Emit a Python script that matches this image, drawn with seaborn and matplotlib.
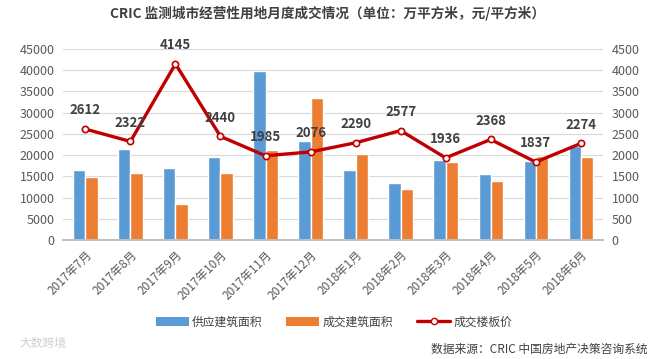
import numpy as np
import pandas as pd
import matplotlib
matplotlib.use("Agg")
import matplotlib.pyplot as plt
from matplotlib.lines import Line2D
from matplotlib.patches import Patch
import seaborn as sns

# data
months = ["2017年7月", "2017年8月", "2017年9月", "2017年10月", "2017年11月", "2017年12月",
          "2018年1月", "2018年2月", "2018年3月", "2018年4月", "2018年5月", "2018年6月"]
supply_area = [16600, 21500, 17000, 19600, 39900, 23400, 16600, 13500, 18900, 15600, 18700, 22200]
deal_area = [14800, 15900, 8600, 15900, 21300, 33500, 20300, 12100, 18400, 14000, 19800, 19600]
deal_price = [2612, 2322, 4145, 2440, 1985, 2076, 2290, 2577, 1936, 2368, 1837, 2274]

series_names = ["供应建筑面积", "成交建筑面积", "成交楼板价"]
blue, orange, red = "#5B9BD5", "#ED7D31", "#C00000"

sns.set_theme(style="white")
plt.rcParams["font.family"] = ["Noto Sans CJK SC", "DejaVu Sans"]

df = pd.DataFrame({
    "month": months * 2,
    "area": supply_area + deal_area,
    "kind": [series_names[0]] * 12 + [series_names[1]] * 12,
})
df_price = pd.DataFrame({"month": months, "price": deal_price})

fig = plt.figure(figsize=(6.55, 3.59), dpi=100)
ax = fig.add_axes([0.096, 0.331, 0.825, 0.533])

sns.barplot(data=df, x="month", y="area", hue="kind", order=months,
            palette=[blue, orange], width=0.54, gap=0, saturation=1,
            legend=False, ax=ax)
ax.set_ylim(0, 45000)
ax.set_yticks(np.arange(0, 45001, 5000))
ax.set_xlim(-0.5, 11.5)
ax.grid(axis="y", color="#D9D9D9", linewidth=0.8)
ax.set_axisbelow(True)
ax.set_xlabel("")
ax.set_ylabel("")

ax2 = ax.twinx()
sns.pointplot(data=df_price, x="month", y="price", order=months, color=red,
              markers="o", linestyles="-", markersize=4.5, linewidth=2.4,
              markerfacecolor="white", markeredgecolor=red, markeredgewidth=1.2,
              ax=ax2)
ax2.set_ylim(0, 4500)
ax2.set_yticks(np.arange(0, 4501, 500))
ax2.set_xlim(-0.5, 11.5)
ax2.set_ylabel("")

for i, v in enumerate(deal_price):
    ax2.annotate(str(v), (i, v), xytext=(0, 8.5), textcoords="offset points",
                 ha="center", va="bottom", fontsize=9.5, fontweight="bold",
                 color="#404040")

for a in (ax, ax2):
    for s in ("left", "right", "top"):
        a.spines[s].set_visible(False)
    a.spines["bottom"].set_color("#BFBFBF")
    a.tick_params(axis="y", length=0, labelsize=9, labelcolor="#595959", pad=6)

ax.set_xticks(range(12))
ax.set_xticklabels(months, rotation=45, ha="right", rotation_mode="anchor",
                   fontsize=8.5, color="#595959")
ax.tick_params(axis="x", which="major", length=0, pad=6)
ax.set_xticks(np.arange(-0.5, 12, 1), minor=True)
ax.tick_params(axis="x", which="minor", length=4, color="#BFBFBF", width=0.8)

fig.text(0.5, 0.962, "CRIC 监测城市经营性用地月度成交情况（单位：万平方米，元/平方米）",
         ha="center", va="center", fontsize=9.8, fontweight="bold", color="#404040")

handles = [
    Patch(facecolor=blue, edgecolor="none"),
    Patch(facecolor=orange, edgecolor="none"),
    Line2D([0], [0], color=red, linewidth=2.4, marker="o", markersize=4.5,
           markerfacecolor="white", markeredgecolor=red),
]
fig.legend(handles, series_names, loc="center", bbox_to_anchor=(0.51, 0.103),
           ncol=3, frameon=False, fontsize=8.5, handlelength=2.8, handleheight=0.8,
           columnspacing=2.0, handletextpad=0.3, labelcolor="#404040")

fig.text(0.988, 0.028, "数据来源：CRIC 中国房地产决策咨询系统", ha="right", va="center",
         fontsize=8.5, color="#404040")
fig.text(0.03, 0.045, "大数跨境", ha="left", va="center", fontsize=8.5,
         color="#D0D0D0")

fig.savefig("out.png", dpi=100)
